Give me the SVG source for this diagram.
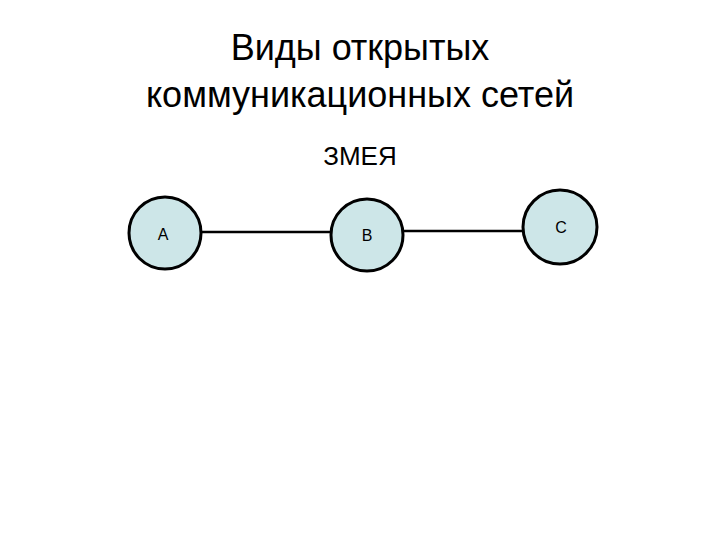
<svg xmlns="http://www.w3.org/2000/svg" width="720" height="540" viewBox="0 0 720 540">
<style>
.t{font-family:"Liberation Sans",Arial,sans-serif;fill:#000;text-anchor:middle}
.n circle{fill:#cde6e8;stroke:#000;stroke-width:3}
.c line{stroke:#000;stroke-width:2.5}
</style>
<rect width="720" height="540" fill="#fff"/>
<text class="t" x="360" y="60" font-size="36">Виды открытых</text>
<text class="t" x="360" y="107" font-size="36">коммуникационных сетей</text>
<text class="t" x="360" y="165" font-size="26">ЗМЕЯ</text>
<g id="connectors" class="c">
<line x1="201" y1="232" x2="331" y2="232"/>
<line x1="403" y1="231" x2="523" y2="231"/>
</g>
<g id="nodeA" class="n"><circle cx="165" cy="233" r="36"/><text class="t" x="163" y="240" font-size="16">A</text></g>
<g id="nodeB" class="n"><circle cx="367" cy="235" r="36"/><text class="t" x="367" y="241" font-size="16">B</text></g>
<g id="nodeC" class="n"><circle cx="560" cy="227" r="37"/><text class="t" x="561" y="233" font-size="16">C</text></g>
</svg>
